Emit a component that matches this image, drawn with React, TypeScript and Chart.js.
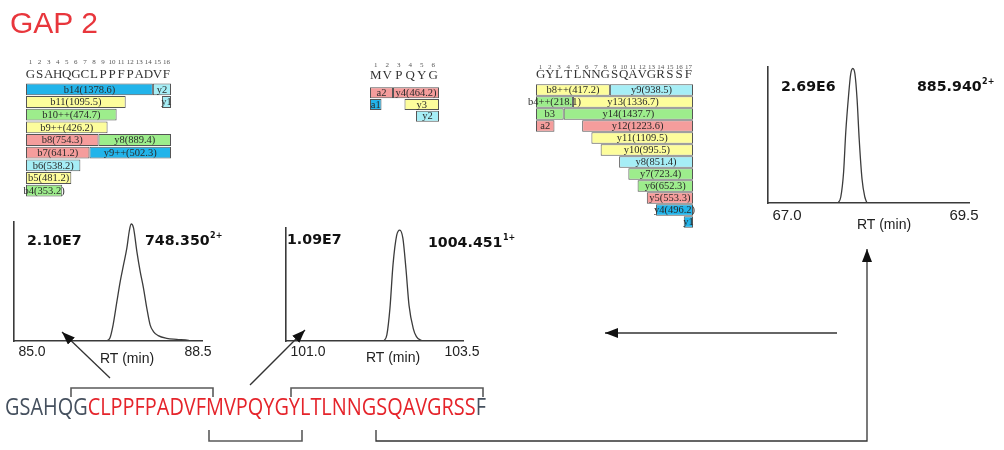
import React, { useEffect, useRef } from "react";
import { Chart, registerables } from "chart.js";

Chart.register(...registerables);

// ---------------- Chromatogram data ----------------
const rt1 = [86.56, 86.64, 86.71, 86.79, 86.86, 86.93, 87.0, 87.05, 87.09, 87.14, 87.21, 87.28, 87.35, 87.42, 87.49, 87.56, 87.66, 87.84, 88.05, 88.3, 88.36];
const int1 = [0, 4.8e5, 2.9e6, 7.1e6, 1.07e7, 1.37e7, 1.67e7, 1.97e7, 2.1e7, 2.03e7, 1.61e7, 1.25e7, 9.5e6, 5.9e6, 2.9e6, 1.7e6, 9.7e5, 4.8e5, 3.0e5, 1.3e5, 0];
const ticks1 = [85.0, 88.5];
const peakLabel1 = "2.10E7";
const mz1 = "748.350";
const charge1 = "2+";

const rt2 = [102.23, 102.28, 102.33, 102.38, 102.44, 102.49, 102.54, 102.59, 102.64, 102.71, 102.76, 102.85];
const int2 = [0, 5.9e5, 3.2e6, 7.5e6, 1.04e7, 1.09e7, 1.01e7, 7.1e6, 3.5e6, 1.2e6, 4.3e5, 0];
const ticks2 = [101.0, 103.5];
const peakLabel2 = "1.09E7";
const mz2 = "1004.451";
const charge2 = "1+";

const rt3 = [67.72, 67.76, 67.8, 67.83, 67.87, 67.9, 67.93, 67.96, 67.99, 68.02, 68.06, 68.1, 68.13];
const int3 = [0, 1.2e5, 6.2e5, 1.41e6, 2.15e6, 2.58e6, 2.69e6, 2.58e6, 2.08e6, 1.28e6, 4.8e5, 1.2e5, 0];
const ticks3 = [67.0, 69.5];
const peakLabel3 = "2.69E6";
const mz3 = "885.940";
const charge3 = "2+";

const axisTitle = "RT (min)";

// ---------------- Fragment maps ----------------
const res1 = ["G", "S", "A", "H", "Q", "G", "C", "L", "P", "P", "F", "P", "A", "D", "V", "F"];
const ions1 = ["b14(1378.6)", "y2", "b11(1095.5)", "y1", "b10++(474.7)", "b9++(426.2)", "b8(754.3)", "y8(889.4)", "b7(641.2)", "y9++(502.3)", "b6(538.2)", "b5(481.2)", "b4(353.2)"];
const from1 = [1, 15, 1, 16, 1, 1, 1, 9, 1, 8, 1, 1, 1];
const to1 = [14, 16, 11, 16, 10, 9, 8, 16, 7, 16, 6, 5, 4];
const row1 = [0, 0, 1, 1, 2, 3, 4, 4, 5, 5, 6, 7, 8];

const res2 = ["M", "V", "P", "Q", "Y", "G"];
const ions2 = ["a2", "y4(464.2)", "a1", "y3", "y2"];
const from2 = [1, 3, 1, 4, 5];
const to2 = [2, 6, 1, 6, 6];
const row2 = [0, 0, 1, 1, 2];

const res3 = ["G", "Y", "L", "T", "L", "N", "N", "G", "S", "Q", "A", "V", "G", "R", "S", "S", "F"];
const ions3 = ["b8++(417.2)", "y9(938.5)", "b4++(218.1)", "y13(1336.7)", "b3", "y14(1437.7)", "a2", "y12(1223.6)", "y11(1109.5)", "y10(995.5)", "y8(851.4)", "y7(723.4)", "y6(652.3)", "y5(553.3)", "y4(496.2)", "y1"];
const from3 = [1, 9, 1, 5, 1, 4, 1, 6, 7, 8, 10, 11, 12, 13, 14, 17];
const to3 = [8, 17, 4, 17, 3, 17, 2, 17, 17, 17, 17, 17, 17, 17, 17, 17];
const row3 = [0, 0, 1, 1, 2, 2, 3, 3, 4, 5, 6, 7, 8, 9, 10, 11];

// ---------------- Styles ----------------
const PALETTE: Record<string, string> = {
  blue: "#22b4ea",
  cyan: "#a6eef6",
  yellow: "#fdfd9c",
  green: "#9ded8c",
  pink: "#f59d9c",
};
const fill1 = ["blue", "cyan", "yellow", "cyan", "green", "yellow", "pink", "green", "pink", "blue", "cyan", "yellow", "green"];
const fill2 = ["pink", "pink", "blue", "yellow", "cyan"];
const fill3 = ["yellow", "cyan", "green", "yellow", "green", "green", "pink", "pink", "yellow", "yellow", "cyan", "green", "green", "pink", "blue", "blue"];

type Box = { x: number; y: number; w: number; h: number };
type Pad = { left: number; top: number; right: number; bottom: number };

function Chromatogram(props: {
  rt: number[];
  intensity: number[];
  ticks: number[];
  xMin: number;
  xMax: number;
  yMax: number;
  box: Box;
  pad: Pad;
  tickDy: number;
  tickFont: number;
  titleDx: number;
  titleDy: number;
  peakLabel: string;
  mz: string;
  charge: string;
  peakPos: [number, number];
  mzPos: [number, number];
  labelFont: number;
}) {
  const ref = useRef<HTMLCanvasElement>(null);
  useEffect(() => {
    const p = props;
    const textPlugin = {
      id: "chromText",
      afterDraw(chart: any) {
        const { ctx, chartArea, scales } = chart;
        const xs = scales.x;
        ctx.save();
        ctx.fillStyle = "#222";
        ctx.textBaseline = "middle";
        ctx.textAlign = "center";
        ctx.font = `${p.tickFont}px 'Liberation Sans', Arial, sans-serif`;
        p.ticks.forEach((t) => {
          ctx.fillText(t.toFixed(1), xs.getPixelForValue(t), chartArea.bottom + p.tickDy);
        });
        ctx.font = `14px 'Liberation Sans', Arial, sans-serif`;
        ctx.fillText(axisTitle, chartArea.left + p.titleDx, chartArea.bottom + p.titleDy);
        ctx.textAlign = "left";
        ctx.fillStyle = "#111";
        ctx.font = `bold ${p.labelFont}px 'DejaVu Sans', sans-serif`;
        ctx.fillText(p.peakLabel, chartArea.left + p.peakPos[0], chartArea.top + p.peakPos[1]);
        const mx = chartArea.left + p.mzPos[0];
        const my = chartArea.top + p.mzPos[1];
        ctx.fillText(p.mz, mx, my);
        const w = ctx.measureText(p.mz).width;
        ctx.font = `bold 8px 'DejaVu Sans', sans-serif`;
        ctx.fillText(p.charge, mx + w + 0.5, my - 5);
        ctx.restore();
      },
    };
    const chart = new Chart(ref.current as HTMLCanvasElement, {
      type: "line",
      data: {
        datasets: [
          {
            data: p.rt.map((x, i) => ({ x, y: p.intensity[i] })),
            borderColor: "#3c3c3c",
            borderWidth: 1.3,
            pointRadius: 0,
            cubicInterpolationMode: "monotone",
            fill: false,
          },
        ],
      },
      options: {
        responsive: false,
        animation: false,
        events: [],
        layout: { padding: p.pad },
        plugins: { legend: { display: false }, tooltip: { enabled: false }, title: { display: false } },
        scales: {
          x: {
            type: "linear",
            min: p.xMin,
            max: p.xMax,
            grid: { display: false, drawTicks: false },
            border: { display: true, color: "#3a3a3a", width: 1.6 },
            ticks: { display: false },
          },
          y: {
            type: "linear",
            min: 0,
            max: p.yMax,
            grid: { display: false, drawTicks: false },
            border: { display: true, color: "#3a3a3a", width: 1.6 },
            ticks: { display: false },
          },
        },
      } as any,
      plugins: [textPlugin],
    });
    return () => chart.destroy();
  }, []);
  const b = props.box;
  return (
    <canvas
      ref={ref}
      width={b.w}
      height={b.h}
      style={{ position: "absolute", left: b.x, top: b.y, width: b.w, height: b.h }}
    />
  );
}

function FragmentMap(props: {
  residues: string[];
  ions: string[];
  from: number[];
  to: number[];
  rows: number[];
  fills: string[];
  box: Box;
  pad: Pad;
  numDy: number;
  letterDy: number;
}) {
  const ref = useRef<HTMLCanvasElement>(null);
  useEffect(() => {
    const p = props;
    const nRows = Math.max(...p.rows) + 1;
    const rowLabels = Array.from({ length: nRows }, (_, i) => String(i + 1));
    const datasets = p.ions.map((name, k) => ({
      label: name,
      data: rowLabels.map((_, r) => (r === p.rows[k] ? [p.from[k] - 1, p.to[k]] : null)),
      backgroundColor: PALETTE[p.fills[k]],
      borderColor: "#555",
      borderWidth: 1,
      borderSkipped: false,
      grouped: false,
      categoryPercentage: 1,
      barPercentage: 0.94,
    }));
    const labelPlugin = {
      id: "fragText",
      afterDatasetsDraw(chart: any) {
        const { ctx, chartArea, scales } = chart;
        const xs = scales.x;
        ctx.save();
        ctx.textAlign = "center";
        ctx.textBaseline = "middle";
        // residue header
        p.residues.forEach((r, i) => {
          const x = xs.getPixelForValue(i + 0.5);
          ctx.fillStyle = "#555";
          ctx.font = "7px 'Liberation Serif', serif";
          ctx.fillText(String(i + 1), x, chartArea.top + p.numDy);
          ctx.fillStyle = "#333";
          ctx.font = "13px 'Liberation Serif', serif";
          ctx.fillText(r, x, chartArea.top + p.letterDy);
        });
        // ion labels
        ctx.fillStyle = "#2a2a2a";
        ctx.font = "10.5px 'Liberation Serif', serif";
        p.ions.forEach((name, k) => {
          const el: any = chart.getDatasetMeta(k).data[p.rows[k]];
          if (!el) return;
          const { x, base, y } = el.getProps(["x", "base", "y"], true);
          ctx.fillText(name, (x + base) / 2, y + 0.5);
        });
        ctx.restore();
      },
    };
    const chart = new Chart(ref.current as HTMLCanvasElement, {
      type: "bar",
      data: { labels: rowLabels, datasets: datasets as any },
      options: {
        indexAxis: "y",
        responsive: false,
        animation: false,
        events: [],
        layout: { padding: p.pad },
        plugins: { legend: { display: false }, tooltip: { enabled: false } },
        scales: {
          x: { type: "linear", min: 0, max: p.residues.length, display: false },
          y: { type: "category", display: false },
        },
      } as any,
      plugins: [labelPlugin],
    });
    return () => chart.destroy();
  }, []);
  const b = props.box;
  return (
    <canvas
      ref={ref}
      width={b.w}
      height={b.h}
      style={{ position: "absolute", left: b.x, top: b.y, width: b.w, height: b.h }}
    />
  );
}

const seqGray1 = "GSAHQG";
const seqRed = "CLPPFPADVFMVPQYGYLTLNNGSQAVGRSS";
const seqGray2 = "F";

function Overlay() {
  const lineCol = "#5a5a5a";
  return (
    <svg
      width={1004}
      height={450}
      style={{ position: "absolute", left: 0, top: 0, pointerEvents: "none" }}
    >
      <defs>
        <marker
          id="ah"
          viewBox="0 0 13 10"
          refX="13"
          refY="5"
          markerWidth="13"
          markerHeight="10"
          markerUnits="userSpaceOnUse"
          orient="auto"
        >
          <path d="M0,0 L13,5 L0,10 z" fill="#111" />
        </marker>
      </defs>
      <text
        x={10}
        y={33}
        fill="#e8363c"
        fontFamily="'Liberation Sans', Arial, sans-serif"
        fontSize={30}
      >
        GAP 2
      </text>
      <text
        x={5}
        y={415}
        fontFamily="'Open Sans', sans-serif"
        fontSize={23}
        textLength={481}
        lengthAdjust="spacingAndGlyphs"
      >
        <tspan fill="#45505e">{seqGray1}</tspan>
        <tspan fill="#e5242b">{seqRed}</tspan>
        <tspan fill="#45505e">{seqGray2}</tspan>
      </text>
      {/* brackets */}
      <path d="M71,397 V388 H213 V397" fill="none" stroke={lineCol} strokeWidth={1.6} />
      <path d="M291,397 V388 H483 V397" fill="none" stroke={lineCol} strokeWidth={1.6} />
      <path d="M209,430 V441 H302 V430" fill="none" stroke={lineCol} strokeWidth={1.6} />
      {/* connectors */}
      <path d="M376,430 V441 H867 V249" fill="none" stroke="#333" strokeWidth={1.3} markerEnd="url(#ah)" />
      <line x1={837} y1={333} x2={605} y2={333} stroke="#333" strokeWidth={1.3} markerEnd="url(#ah)" />
      <line x1={110} y1={378} x2={62} y2={332} stroke="#333" strokeWidth={1.3} markerEnd="url(#ah)" />
      <line x1={250} y1={385} x2={305} y2={330} stroke="#333" strokeWidth={1.3} markerEnd="url(#ah)" />
    </svg>
  );
}

export default function App() {
  return (
    <div
      style={{
        position: "absolute",
        left: 0,
        top: 0,
        width: 1004,
        height: 450,
        background: "#fff",
        overflow: "hidden",
      }}
    >
      <FragmentMap
        residues={res1}
        ions={ions1}
        from={from1}
        to={to1}
        rows={row1}
        fills={fill1}
        box={{ x: 20, y: 52, w: 157, h: 148 }}
        pad={{ left: 6, top: 31, right: 6, bottom: 3 }}
        numDy={-21}
        letterDy={-8}
      />
      <FragmentMap
        residues={res2}
        ions={ions2}
        from={from2}
        to={to2}
        rows={row2}
        fills={fill2}
        box={{ x: 364, y: 56, w: 82, h: 70 }}
        pad={{ left: 6, top: 31, right: 7, bottom: 4 }}
        numDy={-22}
        letterDy={-11}
      />
      <FragmentMap
        residues={res3}
        ions={ions3}
        from={from3}
        to={to3}
        rows={row3}
        fills={fill3}
        box={{ x: 526, y: 53, w: 174, h: 179 }}
        pad={{ left: 10, top: 31, right: 7, bottom: 4 }}
        numDy={-17}
        letterDy={-9}
      />
      <Chromatogram
        rt={rt1}
        intensity={int1}
        ticks={ticks1}
        xMin={84.62}
        xMax={88.584}
        yMax={2.136e7}
        box={{ x: 0, y: 212, w: 226, h: 158 }}
        pad={{ left: 14, top: 10, right: 24, bottom: 29 }}
        tickDy={11}
        tickFont={14}
        titleDx={113}
        titleDy={18}
        peakLabel={peakLabel1}
        mz={mz1}
        charge={charge1}
        peakPos={[13, 19]}
        mzPos={[131, 19]}
        labelFont={14.2}
      />
      <Chromatogram
        rt={rt2}
        intensity={int2}
        ticks={ticks2}
        xMin={100.643}
        xMax={103.516}
        yMax={1.11e7}
        box={{ x: 270, y: 218, w: 260, h: 150 }}
        pad={{ left: 16, top: 10, right: 67, bottom: 27 }}
        tickDy={11}
        tickFont={14}
        titleDx={107}
        titleDy={17}
        peakLabel={peakLabel2}
        mz={mz2}
        charge={charge2}
        peakPos={[1, 12]}
        mzPos={[142, 15]}
        labelFont={14.2}
      />
      <Chromatogram
        rt={rt3}
        intensity={int3}
        ticks={ticks3}
        xMin={66.732}
        xMax={69.571}
        yMax={2.72e6}
        box={{ x: 755, y: 58, w: 249, h: 175 }}
        pad={{ left: 13, top: 9, right: 35, bottom: 30 }}
        tickDy={13}
        tickFont={15}
        titleDx={116}
        titleDy={22}
        peakLabel={peakLabel3}
        mz={mz3}
        charge={charge3}
        peakPos={[13, 20]}
        mzPos={[149, 20]}
        labelFont={14.2}
      />
      <Overlay />
    </div>
  );
}
